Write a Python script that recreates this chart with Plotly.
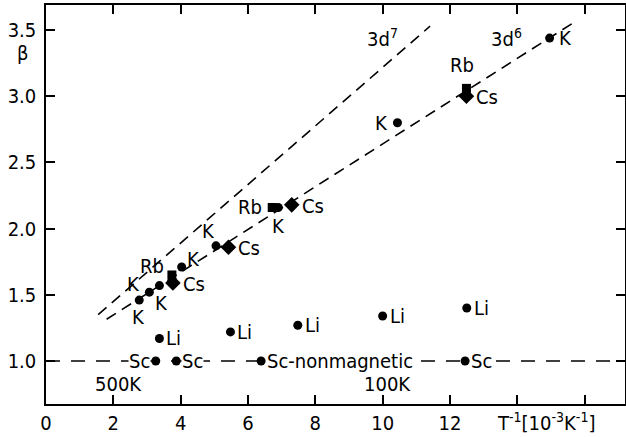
import plotly.graph_objects as go

# ---------------- data ----------------
k_x = [2.77, 3.07, 3.37, 4.03, 5.05, 6.90, 10.44, 14.96]
k_y = [1.46, 1.52, 1.57, 1.71, 1.87, 2.16, 2.80, 3.44]
rb_x = [3.74, 6.72, 12.49]
rb_y = [1.65, 2.16, 3.06]
cs_x = [3.77, 5.42, 7.30, 12.49]
cs_y = [1.59, 1.86, 2.18, 3.00]
li_x = [3.37, 5.48, 7.48, 10.00, 12.50]
li_y = [1.17, 1.22, 1.27, 1.34, 1.40]
sc_x = [3.26, 3.87, 6.39, 12.45]
sc_y = [1.00, 1.00, 1.00, 1.00]

d7_x = [1.55, 11.41]
d7_y = [1.35, 3.53]
d6_x = [1.80, 15.63]
d6_y = [1.315, 3.55]
nonmag_x = [0.0, 17.2]
nonmag_y = [1.0, 1.0]

x_tickvals = [0, 2, 4, 6, 8, 10, 12]
x_ticktext = ["0", "2", "4", "6", "8", "10", "12"]
x_minor_ticks = [14, 16]
y_tickvals = [1.0, 1.5, 2.0, 2.5, 3.0, 3.5]
y_ticktext = ["1.0", "1.5", "2.0", "2.5", "3.0", "3.5"]

temp_text = ["500K", "100K"]
temp_x = [2, 10]

sc_text = ["Sc", "Sc", "Sc-nonmagnetic", "Sc"]

# ---------------- label placement (styles, not data) ----------------
FONT = "DejaVu Sans Condensed, Liberation Sans Narrow, Liberation Sans, Arial, sans-serif"
FS = 20
# (xanchor, xshift, yshift) for each label
k_pos = [("center", -1, -17), ("center", -16, 8), ("center", 2, -17), ("center", 12, 8),
         ("center", -8, 15), ("center", 0, -19), ("right", -7, 0), ("left", 7, 0)]
rb_pos = [("center", -20, 9), ("right", -8, 0), ("center", -4, 23)]
cs_pos = [("left", 8, -1), ("left", 8, -1), ("left", 8, -1), ("left", 8, -1)]
li_pos = [("left", 5, 0)] * 5
sc_pos = [("right", -5, 0), ("left", 5, 0), ("left", 5, 0), ("left", 5, 0)]

fig = go.Figure()

dash_diag = "11px,7px"
fig.add_trace(go.Scatter(x=d7_x, y=d7_y, mode="lines",
                         line=dict(color="black", width=1.6, dash=dash_diag), hoverinfo="skip"))
fig.add_trace(go.Scatter(x=d6_x, y=d6_y, mode="lines",
                         line=dict(color="black", width=1.6, dash=dash_diag), hoverinfo="skip"))
fig.add_trace(go.Scatter(x=nonmag_x, y=nonmag_y, mode="lines",
                         line=dict(color="black", width=1.6, dash="14px,11px"), hoverinfo="skip"))

mk = dict(color="black", line=dict(width=0))
fig.add_trace(go.Scatter(x=li_x, y=li_y, mode="markers", marker=dict(symbol="circle", size=9, **mk)))
fig.add_trace(go.Scatter(x=sc_x, y=sc_y, mode="markers", marker=dict(symbol="circle", size=9, **mk)))
fig.add_trace(go.Scatter(x=k_x, y=k_y, mode="markers", marker=dict(symbol="circle", size=9, **mk)))
fig.add_trace(go.Scatter(x=rb_x, y=rb_y, mode="markers", marker=dict(symbol="square", size=9, **mk)))
fig.add_trace(go.Scatter(x=cs_x, y=cs_y, mode="markers", marker=dict(symbol="diamond", size=12, **mk)))

annotations = []


def add_labels(xs, ys, texts, pos, bg=None):
    for x, y, t, (xa, dx, dy) in zip(xs, ys, texts, pos):
        a = dict(x=x, y=y, xref="x", yref="y", text=t, showarrow=False,
                 xanchor=xa, yanchor="middle", xshift=dx, yshift=dy,
                 font=dict(family=FONT, size=FS, color="black"))
        if bg:
            a["bgcolor"] = bg
            a["borderpad"] = 0
        annotations.append(a)


add_labels(k_x, k_y, ["K"] * len(k_x), k_pos)
add_labels(rb_x, rb_y, ["Rb"] * len(rb_x), rb_pos)
add_labels(cs_x, cs_y, ["Cs"] * len(cs_x), cs_pos)
add_labels(li_x, li_y, ["Li"] * len(li_x), li_pos)
add_labels(sc_x, sc_y, sc_text, sc_pos, bg="white")

# curve labels
annotations.append(dict(x=d7_x[1], y=d7_y[1], xref="x", yref="y", text="3d<sup>7</sup>",
                        showarrow=False, xanchor="right", yanchor="middle", xshift=-30, yshift=-12,
                        font=dict(family=FONT, size=FS, color="black")))
annotations.append(dict(x=d6_x[1], y=d6_y[1], xref="x", yref="y", text="3d<sup>6</sup>",
                        showarrow=False, xanchor="right", yanchor="middle", xshift=-48, yshift=-14,
                        font=dict(family=FONT, size=FS, color="black")))
# temperature markers
for t, x in zip(temp_text, temp_x):
    annotations.append(dict(x=x, y=0, xref="x", yref="paper", text=t, showarrow=False,
                            xanchor="center", yanchor="bottom", xshift=5, yshift=6,
                            font=dict(family=FONT, size=FS, color="black")))
# axis titles
annotations.append(dict(x=0, y=3.33, xref="paper", yref="y", text="β", showarrow=False,
                        xanchor="center", yanchor="middle", xshift=-24,
                        font=dict(family=FONT, size=FS, color="black")))
annotations.append(dict(x=1, y=0, xref="paper", yref="paper",
                        text="T<sup>-1</sup>[10<sup>-3</sup>K<sup>-1</sup>]", showarrow=False,
                        xanchor="right", yanchor="top", xshift=-28, yshift=-3,
                        font=dict(family=FONT, size=FS, color="black")))

axis_common = dict(showline=True, linecolor="black", linewidth=1.5, mirror="ticks",
                   ticks="inside", ticklen=9, tickwidth=1.5, tickcolor="black",
                   showgrid=False, zeroline=False, automargin=False,
                   tickfont=dict(family=FONT, size=FS, color="black"))

fig.update_layout(
    width=626, height=437,
    margin=dict(l=46, r=1, t=5, b=33),
    paper_bgcolor="white", plot_bgcolor="white",
    showlegend=False,
    annotations=annotations,
    xaxis=dict(range=[0, 17.2], tickmode="array", tickvals=x_tickvals, ticktext=x_ticktext,
               minor=dict(tickmode="array", tickvals=x_minor_ticks, ticks="inside",
                          ticklen=9, tickwidth=1.5, tickcolor="black", showgrid=False),
               ticklabelstandoff=0, **axis_common),
    yaxis=dict(range=[0.675, 3.69], tickvals=y_tickvals, ticktext=y_ticktext,
               ticklabelstandoff=4, **axis_common),
)

fig.write_html("out.html", config={"displayModeBar": False},
               post_script="document.body.style.margin='0px';")
